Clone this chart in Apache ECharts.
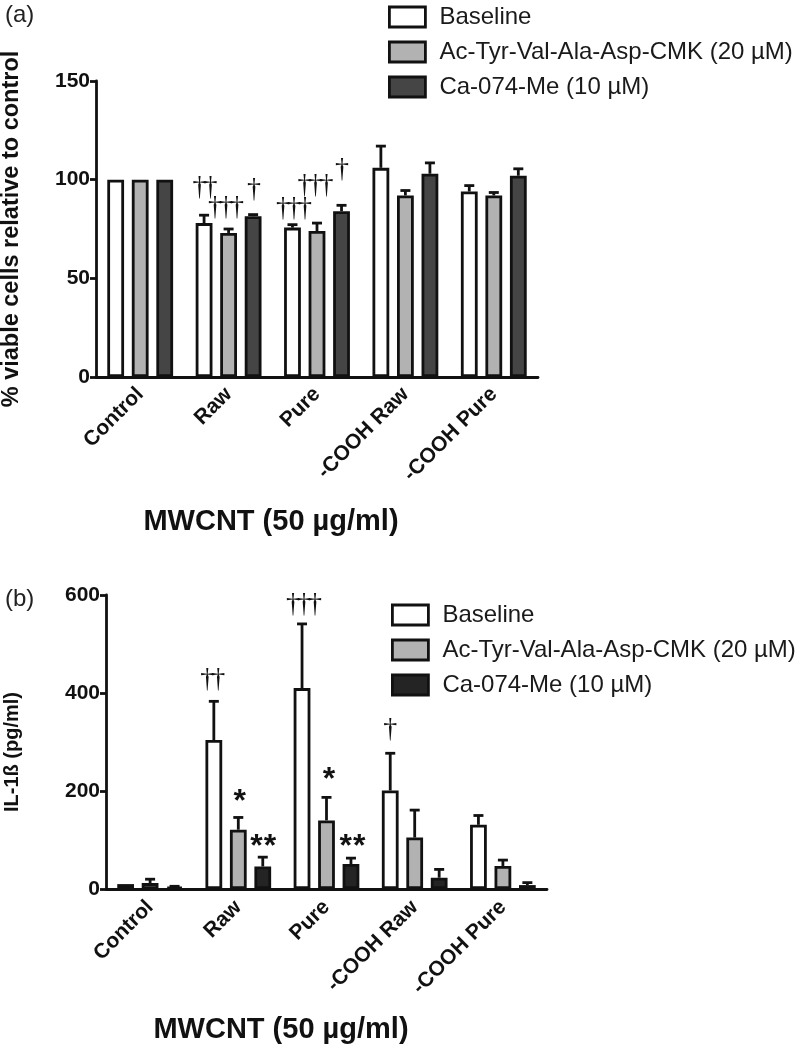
<!DOCTYPE html>
<html>
<head>
<meta charset="utf-8">
<script src="https://cdn.jsdelivr.net/npm/echarts@6/dist/echarts.min.js"></script>
<style>
html,body{margin:0;padding:0;background:#fff;}
#chart{width:802px;height:1050px;}
</style>
</head>
<body>
<div id="chart"></div>
<script>
// ---------- data ----------
const categories = ['Control', 'Raw', 'Pure', '-COOH Raw', '-COOH Pure'];
const seriesNames = ['Baseline', 'Ac-Tyr-Val-Ala-Asp-CMK (20 µM)', 'Ca-074-Me (10 µM)'];

// panel (a): % viable cells relative to control
const viabBaseline    = [100, 78, 75.7, 106, 94];
const viabBaselineErr = [0, 4, 1.5, 11, 3];
const viabYVAD        = [100, 73, 74, 92, 92];
const viabYVADErr     = [0, 2, 4, 2.5, 1.5];
const viabCA074       = [100, 81.5, 84, 103, 102];
const viabCA074Err    = [0, 0.8, 3, 5.5, 3.5];
const viabTicks = [0, 50, 100, 150];

// panel (b): IL-1ß (pg/ml)
const il1bBaseline    = [10, 304, 410, 201, 131];
const il1bBaselineErr = [0, 79, 131, 76, 19];
const il1bYVAD        = [12, 121, 140, 105, 47];
const il1bYVADErr     = [8, 25, 47, 56, 12];
const il1bCA074       = [4, 46, 51, 23, 8];
const il1bCA074Err    = [1.5, 19, 12, 17, 5];
const il1bTicks = [0, 200, 400, 600];

// significance marks: [category index, series index, text]
const annotA = [[1, 0, '††'], [1, 1, '†††'], [1, 2, '†'], [2, 0, '†††'], [2, 1, '†††'], [2, 2, '†']];
const annotB = [[1, 0, '††'], [1, 1, '*'], [1, 2, '**'], [2, 0, '†††'], [2, 1, '*'], [2, 2, '**'], [3, 0, '†']];

// ---------- layout / style ----------
const annotLiftA = [30, 24, 27, 18, 40, 37.5];
const annotDxA   = [1, -2.5, 1, 1.5, -1.5, 0.5];
const annotLiftB = [24, 22, 17, 21.5, 24, 18, 26];
const annotDxB   = [-1, 1.5, 0.5, 2, 2.5, 1.5, 0];

const BAR_W = 0.19, BAR_GAP = 0.46;
const FONT = '"Liberation Sans", Arial, Helvetica, sans-serif';
const SERIF = '"Liberation Serif", "Times New Roman", serif';
const colorsA = ['#ffffff', '#b2b2b2', '#454545'];
const colorsB = ['#ffffff', '#b2b2b2', '#242424'];
const INK = '#111111';
const LW = 2.8;

function errData(vals, errs) {
  const out = [];
  vals.forEach((arr, s) => arr.forEach((v, c) => out.push([c, s, v, errs[s][c]])));
  return out;
}
function annotData(list, vals, errs) {
  return list.map(a => [a[0], a[1], vals[a[1]][a[0]] + errs[a[1]][a[0]], a[2]]);
}

function renderErr(params, api) {
  const err = api.value(3);
  if (!err) return null;
  const band = api.size([1, 0])[0];
  const bw = band * BAR_W;
  const step = bw * (1 + BAR_GAP);
  const base = api.coord([api.value(0), api.value(2)]);
  const top = api.coord([api.value(0), api.value(2) + err]);
  const x = base[0] + (api.value(1) - 1) * step;
  const cap = 10;
  const st = { stroke: INK, lineWidth: LW };
  return {
    type: 'group',
    children: [
      { type: 'line', shape: { x1: x, y1: base[1], x2: x, y2: top[1] }, style: st },
      { type: 'line', shape: { x1: x - cap / 2, y1: top[1], x2: x + cap / 2, y2: top[1] }, style: st }
    ]
  };
}

function makeAnnotRenderer(lifts, dxs) {
  return function (params, api) {
    const i = params.dataIndex;
    const band = api.size([1, 0])[0];
    const bw = band * BAR_W;
    const step = bw * (1 + BAR_GAP);
    const p = api.coord([api.value(0), api.value(2)]);
    const x = p[0] + (api.value(1) - 1) * step + dxs[i];
    const txt = String(api.value(3));
    const isStar = txt.indexOf('*') >= 0;
    const fs = isStar ? 32 : 28;
    const corr = isStar ? fs * 0.22 : fs * 0.08;
    const y = p[1] - lifts[i] + corr;
    const font = isStar ? ('bold ' + fs + 'px ' + FONT) : (fs + 'px ' + SERIF);
    const spacing = isStar ? 13.5 : 11;
    const chars = Array.from(txt);
    const n = chars.length;
    return {
      type: 'group',
      children: chars.map((ch, k) => ({
        type: 'text',
        x: x + (k - (n - 1) / 2) * spacing, y: y,
        style: {
          text: ch, font: font, fill: INK,
          align: 'center', verticalAlign: 'middle',
          textAlign: 'center', textVerticalAlign: 'middle'
        }
      }))
    };
  };
}

const valsA = [viabBaseline, viabYVAD, viabCA074];
const errsA = [viabBaselineErr, viabYVADErr, viabCA074Err];
const valsB = [il1bBaseline, il1bYVAD, il1bCA074];
const errsB = [il1bBaselineErr, il1bYVADErr, il1bCA074Err];

function xAxisCfg(gridIndex, margin) {
  return {
    type: 'category', gridIndex: gridIndex, data: categories,
    axisLine: { lineStyle: { color: INK, width: LW } },
    axisTick: { show: false },
    axisLabel: { rotate: 45, margin: margin, color: INK, fontFamily: FONT, fontWeight: 'bold', fontSize: 21, interval: 0 }
  };
}
function yAxisCfg(gridIndex, ticks, name, nameSize, nameGap, namePad) {
  return {
    type: 'value', gridIndex: gridIndex,
    min: ticks[0], max: ticks[ticks.length - 1], interval: ticks[1] - ticks[0],
    name: name, nameLocation: 'middle', nameRotate: 90, nameGap: nameGap,
    nameTextStyle: { color: INK, fontFamily: FONT, fontWeight: 'bold', fontSize: nameSize, padding: namePad },
    axisLine: { show: true, lineStyle: { color: INK, width: LW } },
    axisTick: { show: true, length: 6, lineStyle: { color: INK, width: LW } },
    axisLabel: { margin: 6, color: INK, fontFamily: FONT, fontWeight: 'bold', fontSize: 21 },
    splitLine: { show: false }
  };
}

const series = [];
valsA.forEach((v, s) => series.push({
  name: seriesNames[s], type: 'bar', xAxisIndex: 0, yAxisIndex: 0, data: v,
  barWidth: (BAR_W * 100) + '%', barGap: (BAR_GAP * 100) + '%',
  itemStyle: { color: colorsA[s], borderColor: INK, borderWidth: LW },
  emphasis: { disabled: true }
}));
valsB.forEach((v, s) => series.push({
  name: seriesNames[s], type: 'bar', xAxisIndex: 1, yAxisIndex: 1, data: v,
  barWidth: (BAR_W * 100) + '%', barGap: (BAR_GAP * 100) + '%',
  itemStyle: { color: colorsB[s], borderColor: INK, borderWidth: LW },
  emphasis: { disabled: true }
}));
series.push({ type: 'custom', xAxisIndex: 0, yAxisIndex: 0, z: 3, renderItem: renderErr,
  data: errData(valsA, errsA), encode: { x: 0, y: 2 }, silent: true });
series.push({ type: 'custom', xAxisIndex: 1, yAxisIndex: 1, z: 3, renderItem: renderErr,
  data: errData(valsB, errsB), encode: { x: 0, y: 2 }, silent: true });
series.push({ type: 'custom', xAxisIndex: 0, yAxisIndex: 0, z: 4, renderItem: makeAnnotRenderer(annotLiftA, annotDxA),
  data: annotData(annotA, valsA, errsA), encode: { x: 0, y: 2 }, silent: true });
series.push({ type: 'custom', xAxisIndex: 1, yAxisIndex: 1, z: 4, renderItem: makeAnnotRenderer(annotLiftB, annotDxB),
  data: annotData(annotB, valsB, errsB), encode: { x: 0, y: 2 }, silent: true });

function legendCfg(left, top, colors) {
  return {
    orient: 'vertical', left: left, top: top, padding: 0,
    icon: 'rect', itemWidth: 36, itemHeight: 20, itemGap: 11,
    selectedMode: false,
    itemStyle: { borderColor: INK, borderWidth: LW },
    textStyle: { color: '#1a1a1a', fontFamily: FONT, fontSize: 24, padding: [0, 0, 0, 9] },
    data: seriesNames.map((n, i) => ({ name: n, itemStyle: { color: colors[i], borderColor: INK, borderWidth: LW } }))
  };
}

const option = {
  animation: false,
  backgroundColor: '#ffffff',
  grid: [
    { left: 96, top: 81, width: 442, height: 296, outerBoundsMode: 'none', containLabel: false },
    { left: 106, top: 595, width: 441, height: 294, outerBoundsMode: 'none', containLabel: false }
  ],
  xAxis: [xAxisCfg(0, 14), xAxisCfg(1, 15)],
  yAxis: [
    yAxisCfg(0, viabTicks, '% viable cells relative to control', 23.5, 72, [0, 0, 0, 0]),
    yAxisCfg(1, il1bTicks, 'IL-1ß (pg/ml)', 20, 84, [0, 20, 0, 0])
  ],
  legend: [legendCfg(388, 5, colorsA), legendCfg(391, 603, colorsB)],
  graphic: [
    { type: 'text', left: 5, top: 3, style: { text: '(a)', font: '24px ' + FONT, fill: '#222' } },
    { type: 'text', left: 5, top: 587, style: { text: '(b)', font: '24px ' + FONT, fill: '#222' } },
    { type: 'text', x: 271, y: 522, style: { text: 'MWCNT (50 µg/ml)', font: 'bold 29px ' + FONT, fill: INK, align: 'center', verticalAlign: 'middle', textAlign: 'center', textVerticalAlign: 'middle' } },
    { type: 'text', x: 281, y: 1030, style: { text: 'MWCNT (50 µg/ml)', font: 'bold 29px ' + FONT, fill: INK, align: 'center', verticalAlign: 'middle', textAlign: 'center', textVerticalAlign: 'middle' } }
  ],
  series: series
};

const chart = echarts.init(document.getElementById('chart'), null, { renderer: 'canvas' });
chart.setOption(option);
</script>
</body>
</html>
